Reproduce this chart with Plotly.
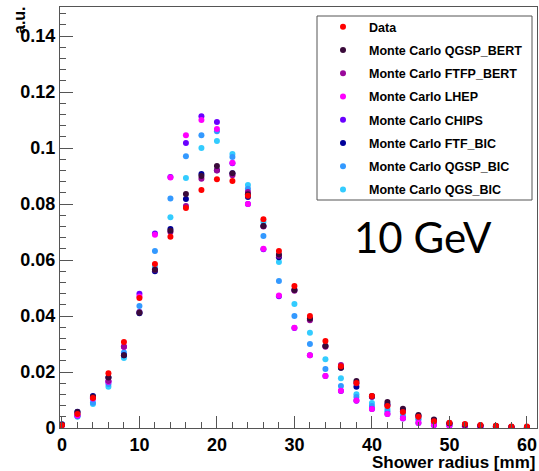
import plotly.graph_objects as go

radius = [0, 2, 4, 6, 8, 10, 12, 14, 16, 18, 20, 22, 24, 26, 28, 30,
          32, 34, 36, 38, 40, 42, 44, 46, 48, 50, 52, 54, 56, 58, 60]

data = [0.001, 0.005, 0.0107, 0.0196, 0.0307, 0.0464, 0.0586, 0.0683, 0.0786, 0.085, 0.0889,
        0.0882, 0.083, 0.0746, 0.0632, 0.0507, 0.040, 0.0311, 0.0221, 0.0161, 0.0114,
        0.0079, 0.0057, 0.004, 0.0024, 0.0019, 0.0014, 0.0011, 0.0008, 0.0005, 0.0005]
qgsp_bert = [0.0012, 0.0057, 0.0112, 0.018, 0.026, 0.0412, 0.0565, 0.0705, 0.0836, 0.090, 0.0936,
             0.091, 0.0835, 0.0722, 0.062, 0.0493, 0.039, 0.0293, 0.0215, 0.0168, 0.0114,
             0.0093, 0.0069, 0.0046, 0.003, 0.0017, 0.0012, 0.0009, 0.0007, 0.0004, 0.0003]
ftfp_bert = [0.001, 0.0052, 0.011, 0.0168, 0.029, 0.0414, 0.0565, 0.070, 0.0793, 0.089, 0.092,
             0.0903, 0.0843, 0.072, 0.0615, 0.049, 0.0385, 0.029, 0.0225, 0.016, 0.0112,
             0.008, 0.006, 0.004, 0.0027, 0.0016, 0.0011, 0.0008, 0.0006, 0.0004, 0.0003]
lhep = [0.001, 0.0045, 0.0105, 0.0165, 0.029, 0.047, 0.069, 0.0895, 0.1046, 0.110, 0.1068,
        0.0948, 0.080, 0.064, 0.0473, 0.0358, 0.026, 0.0186, 0.0133, 0.0098, 0.0068,
        0.005, 0.0035, 0.0019, 0.0011, 0.0008, 0.0006, 0.0004, 0.0003, 0.0002, 0.0002]
chips = [0.001, 0.0045, 0.0105, 0.0165, 0.029, 0.048, 0.0695, 0.0897, 0.1018, 0.1114, 0.1093,
         0.0946, 0.080, 0.0639, 0.0471, 0.0357, 0.026, 0.0186, 0.0132, 0.0097, 0.0068,
         0.005, 0.0034, 0.0018, 0.001, 0.0008, 0.0006, 0.0004, 0.0003, 0.0002, 0.0002]
ftf_bic = [0.0013, 0.0058, 0.0114, 0.018, 0.026, 0.041, 0.056, 0.0711, 0.0818, 0.0907, 0.0921,
           0.091, 0.0825, 0.0722, 0.061, 0.0493, 0.039, 0.0293, 0.0215, 0.0147, 0.0112,
           0.0085, 0.0065, 0.0044, 0.0029, 0.0017, 0.0012, 0.0009, 0.0006, 0.0004, 0.0003]
qgsp_bic = [0.001, 0.0042, 0.009, 0.0157, 0.027, 0.0436, 0.0632, 0.082, 0.0971, 0.1046, 0.106,
            0.0968, 0.0855, 0.0686, 0.0525, 0.040, 0.030, 0.0211, 0.015, 0.0111, 0.0079,
            0.006, 0.004, 0.003, 0.0017, 0.0011, 0.0008, 0.0005, 0.0004, 0.0003, 0.0002]
qgs_bic = [0.001, 0.004, 0.0086, 0.0147, 0.025, 0.0414, 0.0575, 0.0753, 0.0893, 0.100, 0.1025,
           0.0979, 0.0868, 0.0736, 0.0593, 0.0443, 0.034, 0.0246, 0.0178, 0.0121, 0.0089,
           0.0068, 0.005, 0.0033, 0.002, 0.0013, 0.0009, 0.0006, 0.0004, 0.0003, 0.0002]

series_names = ["Data", "Monte Carlo QGSP_BERT", "Monte Carlo FTFP_BERT", "Monte Carlo LHEP",
                "Monte Carlo CHIPS", "Monte Carlo FTF_BIC", "Monte Carlo QGSP_BIC",
                "Monte Carlo QGS_BIC"]
series_values = [data, qgsp_bert, ftfp_bert, lhep, chips, ftf_bic, qgsp_bic, qgs_bic]
series_colors = ["#ff0000", "#3a0a3a", "#99089a", "#ff00ff", "#6a00ff", "#000099",
                 "#3399ff", "#33ccff"]

y_tickvals = [0, 0.02, 0.04, 0.06, 0.08, 0.1, 0.12, 0.14]
y_ticktext = ["0", "0.02", "0.04", "0.06", "0.08", "0.1", "0.12", "0.14"]
x_tickvals = [0, 10, 20, 30, 40, 50, 60]
x_ticktext = ["0", "10", "20", "30", "40", "50", "60"]

FONT = "Liberation Sans, Arial, sans-serif"

W, H = 539, 471
ML, MR, MT, MB = 60, 2, 7, 43
PW, PH = W - ML - MR, H - MT - MB


def px(xp):
    return (xp - ML) / PW


def py(yp):
    return 1 - (yp - MT) / PH


fig = go.Figure()
for i in reversed(range(len(series_names))):
    fig.add_trace(go.Scatter(
        x=radius, y=series_values[i], mode="markers", name=series_names[i],
        marker=dict(color=series_colors[i], size=6, line=dict(width=0)),
        legendgroup=f"g{i}", legendrank=i + 1,
    ))

fig.update_layout(
    width=W, height=H,
    margin=dict(l=ML, r=MR, t=MT, b=MB, autoexpand=False),
    paper_bgcolor="white", plot_bgcolor="white",
    showlegend=True,
    legend=dict(
        x=px(317), y=py(12), xanchor="left", yanchor="top",
        bgcolor="rgba(0,0,0,0)", borderwidth=0,
        font=dict(family=FONT, size=12.5, color="black", weight="bold"),
        itemwidth=42, tracegroupgap=4, traceorder="grouped",
    ),
    shapes=[
        dict(type="rect", xref="paper", yref="paper",
             x0=px(317), x1=px(532), y0=py(200), y1=py(16),
             line=dict(color="#555555", width=1), fillcolor="white", layer="above"),
    ],
    xaxis=dict(
        range=[-0.25, 61.3], showgrid=False, zeroline=False, automargin=False,
        showline=True, linecolor="#555555", linewidth=1, mirror=True,
        ticks="inside", ticklen=12, tickcolor="#555555",
        tickvals=x_tickvals, ticktext=x_ticktext,
        minor=dict(ticks="inside", ticklen=6, dtick=2, tick0=0, tickcolor="#555555"),
        tickfont=dict(family=FONT, size=18, color="black", weight="bold"),
    ),
    yaxis=dict(
        range=[0, 0.1504], showgrid=False, zeroline=False, automargin=False,
        showline=True, linecolor="#555555", linewidth=1, mirror=True,
        ticks="inside", ticklen=13, tickcolor="#555555",
        tickvals=y_tickvals, ticktext=y_ticktext,
        minor=dict(ticks="inside", ticklen=6, dtick=0.004, tick0=0, tickcolor="#555555"),
        tickfont=dict(family=FONT, size=18, color="black", weight="bold"),
    ),
    annotations=[
        dict(text="Shower radius [mm]", xref="paper", yref="paper", x=px(537), y=py(462),
             xanchor="right", yanchor="middle", showarrow=False,
             font=dict(family=FONT, size=17, color="black", weight="bold")),
        dict(text="a.u.", xref="paper", yref="paper", x=px(20), y=py(4),
             xanchor="center", yanchor="top", textangle=-90, showarrow=False,
             font=dict(family=FONT, size=16, color="black", weight="bold")),
        dict(text="10 GeV", xref="paper", yref="paper", x=px(423), y=py(237),
             xanchor="center", yanchor="middle", showarrow=False,
             font=dict(family="Lato, Carlito, sans-serif", size=42, color="black")),
    ],
)

# remove the default page margin so the 539x471 figure fills the window exactly
fig.write_html("out.html", config={"displayModeBar": False},
               post_script="document.body.style.margin='0';document.body.style.overflow='hidden';")
